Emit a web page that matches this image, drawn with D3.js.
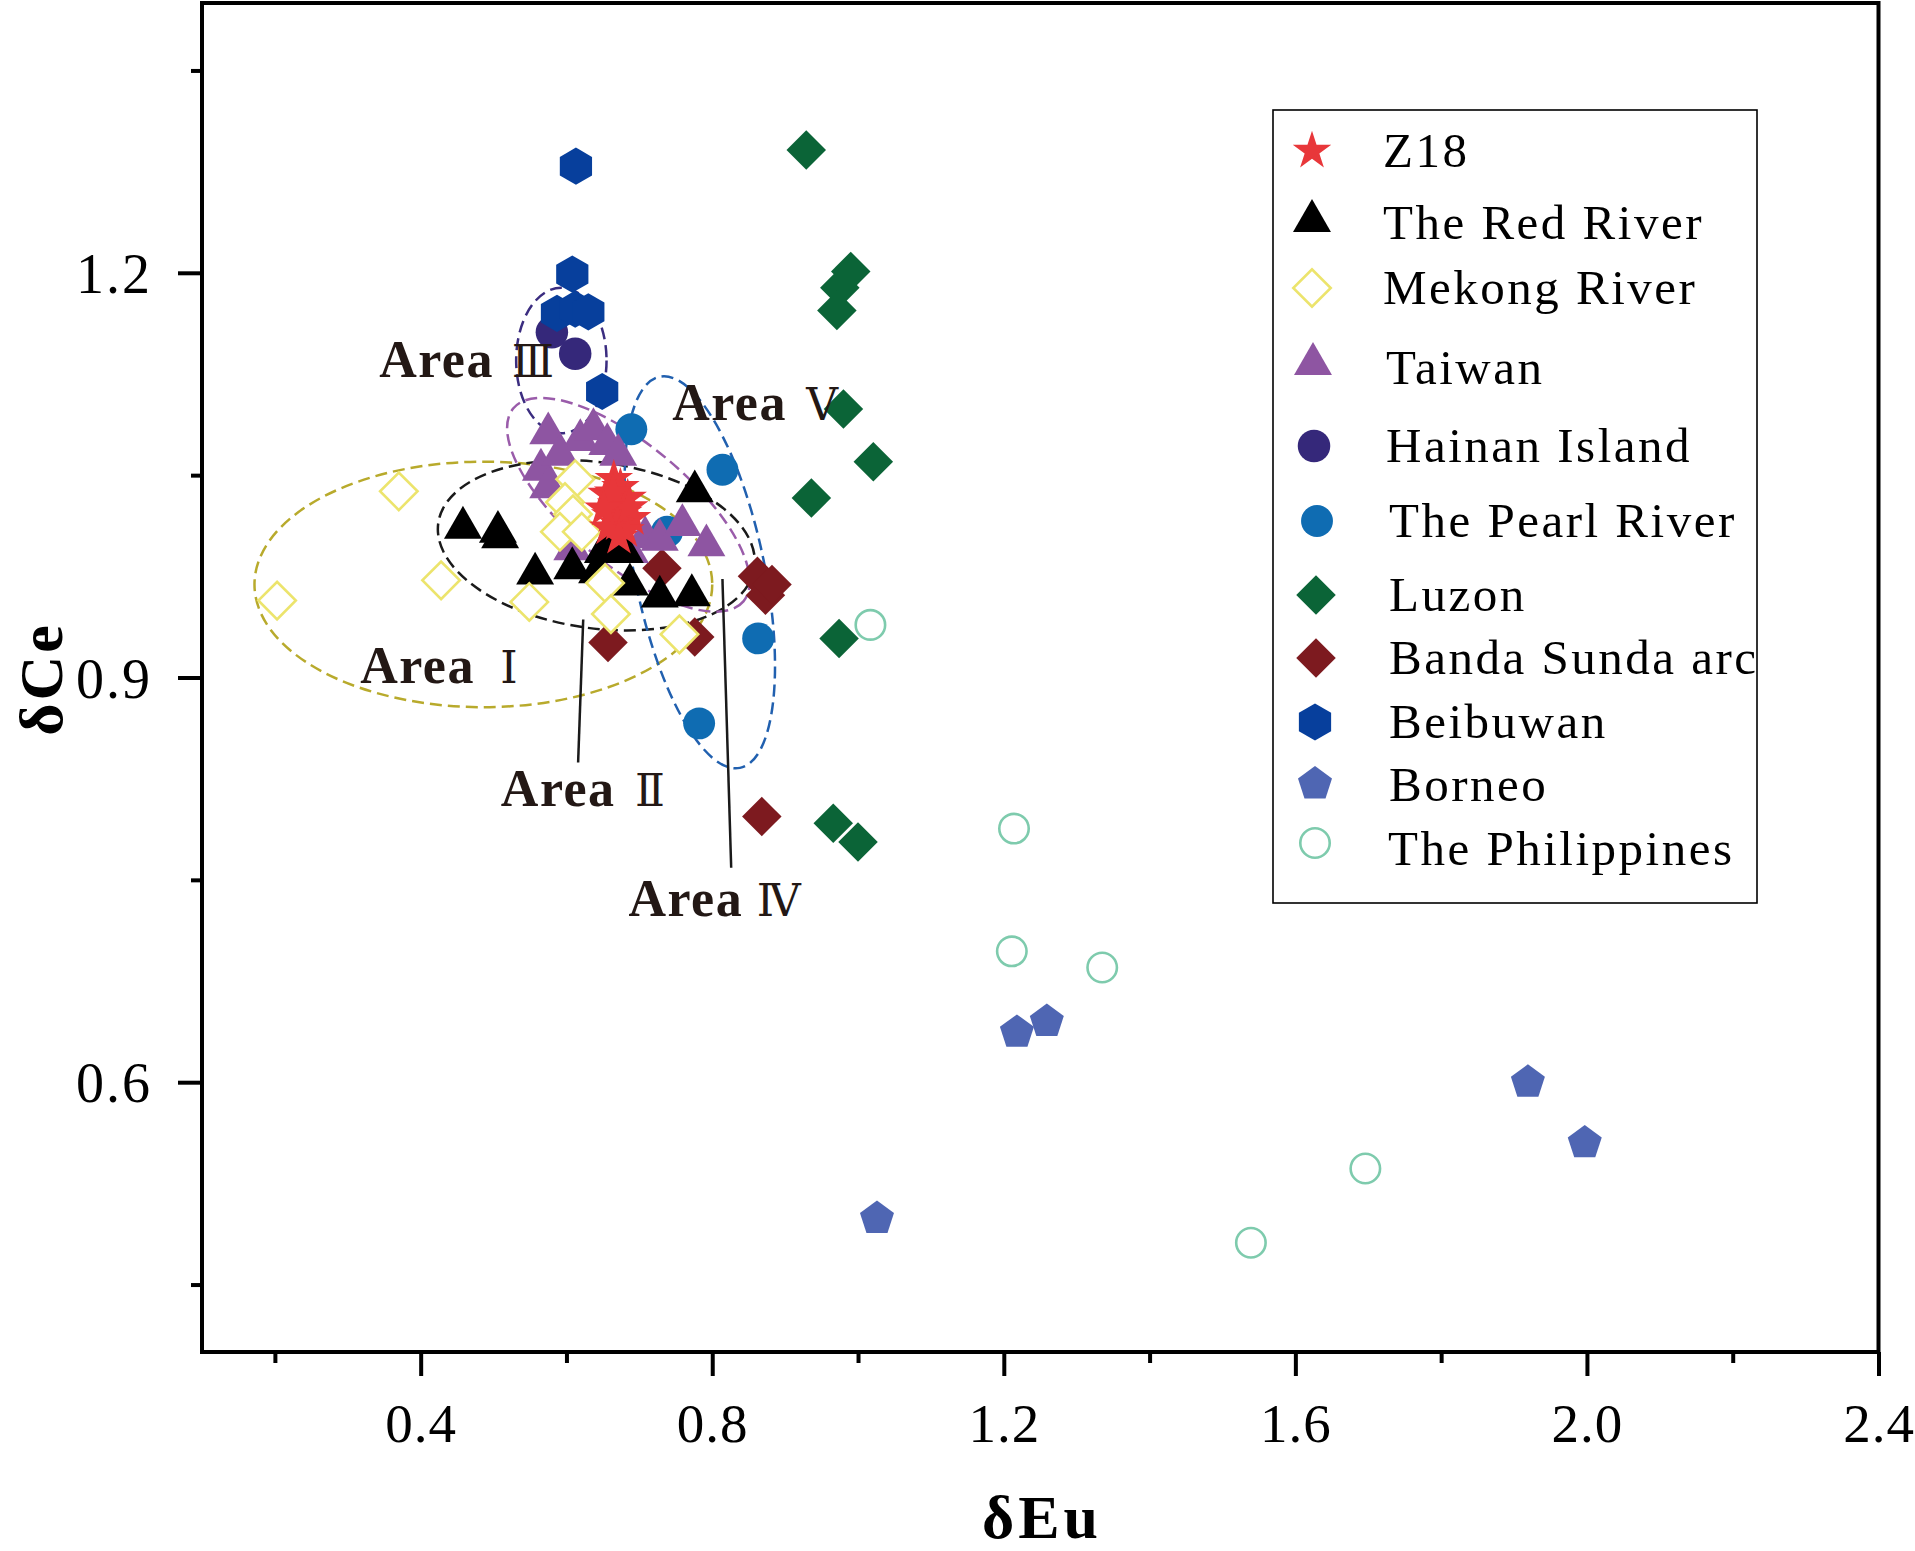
<!DOCTYPE html>
<html>
<head>
<meta charset="utf-8">
<script src="https://cdn.jsdelivr.net/npm/d3@7"></script>
<style>
    body { margin: 0; background: #fff; }
    svg { display: block; }
</style>
</head>
<body>
<div id="chart"></div>
<script>
// ---- data (δEu, δCe) ----
const z18 = [
    [0.665, 1.047], [0.674, 1.041], [0.655, 1.036], [0.684, 1.033], [0.668, 1.028],
    [0.678, 1.022], [0.660, 1.020], [0.690, 1.018], [0.670, 1.014], [0.681, 1.009],
    [0.657, 1.011], [0.672, 1.004], [0.664, 1.037], [0.686, 1.026], [0.651, 1.025]
];
const redRiver = [
    [0.458, 1.011], [0.506, 1.008], [0.509, 1.004], [0.557, 0.977], [0.608, 0.981],
    [0.642, 0.978], [0.650, 0.993], [0.664, 0.998], [0.680, 0.993], [0.687, 0.969],
    [0.728, 0.960], [0.772, 0.961], [0.776, 1.038]
];
const mekong = [
    [0.370, 1.038], [0.203, 0.957], [0.428, 0.972], [0.549, 0.956], [0.612, 1.047],
    [0.598, 1.030], [0.609, 1.021], [0.591, 1.008], [0.621, 1.008], [0.653, 0.970],
    [0.661, 0.947], [0.755, 0.932]
];
const taiwan = [
    [0.575, 1.081], [0.565, 1.054], [0.619, 1.076], [0.637, 1.084], [0.656, 1.073],
    [0.671, 1.065], [0.591, 1.065], [0.575, 1.041], [0.608, 0.995], [0.708, 1.004],
    [0.728, 1.002], [0.759, 1.013], [0.792, 0.998], [0.687, 0.993]
];
const hainan = [[0.580, 1.156], [0.612, 1.140]];
const pearlRiver = [[0.689, 1.084], [0.814, 1.054], [0.738, 1.008], [0.863, 0.929], [0.782, 0.866]];
const luzon = [
    [0.929, 1.291], [0.990, 1.201], [0.975, 1.189], [0.971, 1.172], [0.980, 1.099],
    [1.021, 1.060], [0.936, 1.033], [0.974, 0.929], [0.966, 0.792], [1.000, 0.778]
];
const bandaSunda = [[0.731, 0.981], [0.657, 0.926], [0.776, 0.930], [0.862, 0.975], [0.873, 0.961], [0.882, 0.969], [0.868, 0.797]];
const beibuwan = [[0.613, 1.279], [0.608, 1.199], [0.587, 1.170], [0.612, 1.173], [0.630, 1.171], [0.649, 1.112]];
const borneo = [[1.026, 0.499], [1.218, 0.637], [1.259, 0.645], [1.919, 0.600], [1.997, 0.555]];
const philippines = [[1.017, 0.939], [1.214, 0.788], [1.211, 0.697], [1.335, 0.685], [1.696, 0.536], [1.539, 0.481]];

const xTicks = [0.4, 0.8, 1.2, 1.6, 2.0, 2.4];
const xMinor = [0.2, 0.6, 1.0, 1.4, 1.8, 2.2];
const yTicks = [0.6, 0.9, 1.2];
const yMinor = [0.45, 0.75, 1.05, 1.35];

// dashed areas: centre, half-axes in data units, rotation in degrees
const areas = [
    {name: "I",   cx: 0.486, cy: 0.969, rx: 0.314, ry: 0.091, angle: 0,     color: "#b8aa2c"},
    {name: "II",  cx: 0.641, cy: 0.998, rx: 0.219, ry: 0.0615, angle: 8,    color: "#1a1a1a"},
    {name: "III", cx: 0.593, cy: 1.135, rx: 0.062, ry: 0.054, angle: 0,     color: "#3b2d80"},
    {name: "IV",  cx: 0.685, cy: 1.028, rx: 0.206, ry: 0.0445, angle: 40,   color: "#9a5caa"},
    {name: "V",   cx: 0.783, cy: 0.978, rx: 0.089, ry: 0.148, angle: -11.6, color: "#2160af"}
];
const areaLabels = [
    {num: "Ⅲ", x: 0.343, nx: 0.525, y: 1.123},
    {num: "Ⅴ", x: 0.745, nx: 0.929, y: 1.091},
    {num: "Ⅰ", x: 0.317, nx: 0.509, y: 0.896},
    {num: "Ⅱ", x: 0.510, nx: 0.694, y: 0.805},
    {num: "Ⅳ", x: 0.685, nx: 0.861, y: 0.723}
];
const leaders = [
    [[0.623, 0.943], [0.616, 0.837]],
    [[0.814, 0.973], [0.826, 0.759]]
];

// ---- symbols ----
const symbolHexagon = {
    draw(context, size) {
        const r = Math.sqrt(size / (1.5 * Math.sqrt(3)));
        for (let i = 0; i < 6; i++) {
            const a = (-90 + 60 * i) * Math.PI / 180;
            if (i === 0) context.moveTo(r * Math.cos(a), r * Math.sin(a));
            else context.lineTo(r * Math.cos(a), r * Math.sin(a));
        }
        context.closePath();
    }
};
const symbolPentagon = {
    draw(context, size) {
        const r = Math.sqrt(size / (2.5 * Math.sin(72 * Math.PI / 180)));
        for (let i = 0; i < 5; i++) {
            const a = (-90 + 72 * i) * Math.PI / 180;
            if (i === 0) context.moveTo(r * Math.cos(a), r * Math.sin(a));
            else context.lineTo(r * Math.cos(a), r * Math.sin(a));
        }
        context.closePath();
    }
};

const series = [
    {name: "Z18", data: z18, type: d3.symbolStar, size: 460, fill: "#e8373a", stroke: "none"},
    {name: "The Red River", data: redRiver, type: d3.symbolTriangle, size: 624, fill: "#000000", stroke: "none"},
    {name: "Mekong River", data: mekong, type: d3.symbolSquare, size: 700, rot: 45, fill: "#ffffff", stroke: "#ece46c"},
    {name: "Taiwan", data: taiwan, type: d3.symbolTriangle, size: 624, fill: "#8e55a2", stroke: "none"},
    {name: "Hainan Island", data: hainan, type: d3.symbolCircle, size: 830, fill: "#35287a", stroke: "none"},
    {name: "The Pearl River", data: pearlRiver, type: d3.symbolCircle, size: 800, fill: "#0f6cb2", stroke: "none"},
    {name: "Luzon", data: luzon, type: d3.symbolSquare, size: 780, rot: 45, fill: "#0b6437", stroke: "none"},
    {name: "Banda Sunda arc", data: bandaSunda, type: d3.symbolSquare, size: 780, rot: 45, fill: "#7d1a1f", stroke: "none"},
    {name: "Beibuwan", data: beibuwan, type: symbolHexagon, size: 900, fill: "#073f9c", stroke: "none"},
    {name: "Borneo", data: borneo, type: symbolPentagon, size: 760, fill: "#4f66b3", stroke: "none"},
    {name: "The Philippines", data: philippines, type: d3.symbolCircle, size: 680, fill: "#ffffff", stroke: "#7ecbad"}
];
// back to front
const drawOrder = ["Luzon", "The Philippines", "Borneo", "Hainan Island", "Beibuwan", "The Pearl River",
    "Banda Sunda arc", "Taiwan", "The Red River", "Mekong River", "Z18"];

// legend rows: symbol centre and text baseline
const legendSymY = [151, 221, 288, 364, 446, 521, 595, 658, 722, 784, 843];
const legendTextY = [167, 239, 304, 384, 462, 537, 611, 674, 738, 801, 865];
const legendSymX = [1312, 1312, 1312, 1313, 1314, 1317, 1316, 1316, 1315, 1315, 1315];
const legendTextX = [1383, 1383, 1383, 1386, 1386, 1389, 1389, 1389, 1389, 1389, 1388];

const W = 1915, H = 1551;
const serif = "'Liberation Serif', 'Times New Roman', serif";

const svg = d3.select("#chart").append("svg")
    .attr("width", W)
    .attr("height", H);

const x = d3.scaleLinear().domain([0.1, 2.4]).range([202, 1878.5]);
const y = d3.scaleLinear().domain([0.4, 1.4]).range([1352, 3]);

// ---- axes ----
const xAxis = svg.append("g")
    .attr("transform", `translate(0,${y(0.4)})`)
    .call(d3.axisBottom(x).tickValues(xTicks).tickSize(24).tickFormat(d3.format(".1f")));
xAxis.select(".domain").remove();
xAxis.selectAll("line").attr("stroke", "#000").attr("stroke-width", 4);
xAxis.selectAll("text")
    .attr("y", 90).attr("dy", 0)
    .attr("font-family", serif).attr("font-size", 55)
    .attr("letter-spacing", 1).attr("fill", "#000");

const xAxisMinor = svg.append("g")
    .attr("transform", `translate(0,${y(0.4)})`)
    .call(d3.axisBottom(x).tickValues(xMinor).tickSize(11).tickFormat(""));
xAxisMinor.select(".domain").remove();
xAxisMinor.selectAll("line").attr("stroke", "#000").attr("stroke-width", 4);

const yAxis = svg.append("g")
    .attr("transform", `translate(${x(0.1)},0)`)
    .call(d3.axisLeft(y).tickValues(yTicks).tickSize(24).tickFormat(d3.format(".1f")));
yAxis.select(".domain").remove();
yAxis.selectAll("line").attr("stroke", "#000").attr("stroke-width", 4);
yAxis.selectAll("text")
    .attr("x", -50).attr("dy", "0.35em")
    .attr("font-family", serif).attr("font-size", 56)
    .attr("letter-spacing", 2).attr("fill", "#000");

const yAxisMinor = svg.append("g")
    .attr("transform", `translate(${x(0.1)},0)`)
    .call(d3.axisLeft(y).tickValues(yMinor).tickSize(11).tickFormat(""));
yAxisMinor.select(".domain").remove();
yAxisMinor.selectAll("line").attr("stroke", "#000").attr("stroke-width", 4);

// frame
svg.append("rect")
    .attr("x", x(0.1)).attr("y", y(1.4))
    .attr("width", x(2.4) - x(0.1))
    .attr("height", y(0.4) - y(1.4))
    .attr("fill", "none").attr("stroke", "#000").attr("stroke-width", 4);

// axis titles
svg.append("text")
    .attr("x", 1042).attr("y", 1538)
    .attr("text-anchor", "middle")
    .attr("font-family", serif).attr("font-weight", "bold")
    .attr("font-size", 62).attr("letter-spacing", 4)
    .text("δEu");
svg.append("text")
    .attr("transform", "translate(62,679) rotate(-90)")
    .attr("text-anchor", "middle")
    .attr("font-family", serif).attr("font-weight", "bold")
    .attr("font-size", 62).attr("letter-spacing", 3)
    .text("δCe");

// ---- dashed areas ----
const plot = svg.append("g");
plot.selectAll(".area")
    .data(areas)
    .enter().append("ellipse")
    .attr("class", "area")
    .attr("cx", 0).attr("cy", 0)
    .attr("rx", d => x(d.cx + d.rx) - x(d.cx))
    .attr("ry", d => y(d.cy) - y(d.cy + d.ry))
    .attr("transform", d => `translate(${x(d.cx)},${y(d.cy)}) rotate(${d.angle})`)
    .attr("fill", "none")
    .attr("stroke", d => d.color)
    .attr("stroke-width", 2.5)
    .attr("stroke-dasharray", "12,6");

plot.selectAll(".leader")
    .data(leaders)
    .enter().append("line")
    .attr("class", "leader")
    .attr("x1", d => x(d[0][0])).attr("y1", d => y(d[0][1]))
    .attr("x2", d => x(d[1][0])).attr("y2", d => y(d[1][1]))
    .attr("stroke", "#1a1a1a").attr("stroke-width", 2.5);

// ---- points ----
const byName = {};
series.forEach(s => byName[s.name] = s);

drawOrder.forEach(name => {
    const s = byName[name];
    const sym = d3.symbol().type(s.type).size(s.size);
    plot.append("g").selectAll("path")
        .data(s.data)
        .enter().append("path")
        .attr("d", sym)
        .attr("transform", d => `translate(${x(d[0])},${y(d[1])})` + (s.rot ? ` rotate(${s.rot})` : ""))
        .attr("fill", s.fill)
        .attr("stroke", s.stroke)
        .attr("stroke-width", s.stroke === "none" ? 0 : 2.6);
});

// ---- area labels ----
const labels = svg.append("g");
labels.selectAll(".area-word")
    .data(areaLabels)
    .enter().append("text")
    .attr("x", d => x(d.x)).attr("y", d => y(d.y))
    .attr("font-family", serif).attr("font-weight", "bold")
    .attr("font-size", 52).attr("letter-spacing", 1.5)
    .attr("fill", "#231815")
    .text("Area");
labels.selectAll(".area-num")
    .data(areaLabels)
    .enter().append("text")
    .attr("x", d => x(d.nx)).attr("y", d => y(d.y))
    .attr("font-family", "'DejaVu Serif', 'Liberation Serif', serif")
    .attr("font-size", 44)
    .attr("fill", "#231815")
    .text(d => d.num);

// ---- legend ----
const legend = svg.append("g");
legend.append("rect")
    .attr("x", 1273).attr("y", 110)
    .attr("width", 1757 - 1273).attr("height", 903 - 110)
    .attr("fill", "#fff").attr("stroke", "#000").attr("stroke-width", 1.6);

series.forEach((s, i) => {
    const sym = d3.symbol().type(s.type).size(s.size);
    legend.append("path")
        .attr("d", sym)
        .attr("transform", `translate(${legendSymX[i]},${legendSymY[i]})` + (s.rot ? ` rotate(${s.rot})` : ""))
        .attr("fill", s.fill)
        .attr("stroke", s.stroke)
        .attr("stroke-width", s.stroke === "none" ? 0 : 2.6);
    legend.append("text")
        .attr("x", legendTextX[i]).attr("y", legendTextY[i])
        .attr("font-family", serif).attr("font-size", 49)
        .attr("letter-spacing", 2.5)
        .attr("fill", "#000")
        .text(s.name);
});
</script>
</body>
</html>
